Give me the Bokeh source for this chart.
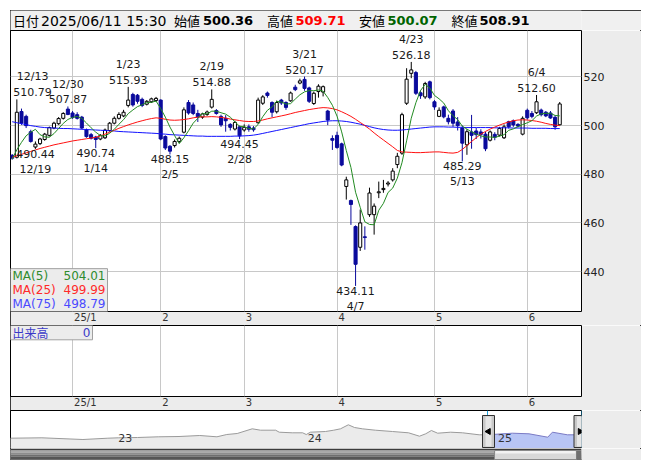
import math
from datetime import datetime, timedelta
import pandas as pd
from bokeh.plotting import figure
from bokeh.layouts import column
from bokeh.models import Range1d, FixedTicker
from bokeh.core.properties import value
from bokeh.embed import file_html
from bokeh.resources import INLINE

# ---------------- data ----------------
dates = ["12/12", "12/13", "12/16", "12/17", "12/18", "12/19", "12/20", "12/23", "12/24", "12/25", "12/26", "12/27", "12/30",
         "1/6", "1/7", "1/8", "1/9", "1/10", "1/14", "1/15", "1/16", "1/17", "1/20", "1/21", "1/22", "1/23", "1/24", "1/27", "1/28", "1/29", "1/30", "1/31",
         "2/3", "2/4", "2/5", "2/6", "2/7", "2/10", "2/12", "2/13", "2/14", "2/17", "2/18", "2/19", "2/20", "2/21", "2/25", "2/26", "2/27", "2/28",
         "3/3", "3/4", "3/5", "3/6", "3/7", "3/10", "3/11", "3/12", "3/13", "3/14", "3/17", "3/18", "3/19", "3/21", "3/24", "3/25", "3/26", "3/27", "3/28", "3/31",
         "4/1", "4/2", "4/3", "4/4", "4/7", "4/8", "4/9", "4/10", "4/11", "4/14", "4/15", "4/16", "4/17", "4/18", "4/21", "4/22", "4/23", "4/24", "4/25", "4/28", "4/30",
         "5/1", "5/2", "5/7", "5/8", "5/9", "5/12", "5/13", "5/14", "5/15", "5/16", "5/19", "5/20", "5/21", "5/22", "5/23", "5/26", "5/27", "5/28", "5/29", "5/30",
         "6/2", "6/3", "6/4", "6/5", "6/6", "6/9", "6/10", "6/11"]

opens = [487.8, 487.0, 505.8, 503.8, 497.5, 491.2, 492.6, 494.3, 496.0, 499.0, 500.8, 503.0, 506.8,
         505.2, 504.5, 503.5, 498.2, 496.3, 495.3, 494.5, 495.0, 498.0, 501.0, 503.0, 504.0, 508.3, 512.8, 512.5, 510.8, 508.8, 509.8, 510.3,
         510.5, 495.5, 491.5, 491.8, 493.5, 497.3, 509.5, 508.5, 505.0, 503.5, 504.6, 507.6, 506.2, 503.8, 503.0, 500.5, 498.6, 499.5,
         498.2, 499.5, 499.0, 501.2, 509.2, 513.4, 509.5, 505.7, 510.5, 509.5, 510.2, 515.8, 517.5, 519.0, 515.5, 509.1, 514.0, 513.8, 506.0, 494.7,
         496.0, 492.5, 475.0, 469.2, 458.5, 450.0, 454.3, 463.4, 463.4, 472.4, 473.7, 476.0, 477.7, 484.0, 488.7, 509.2, 521.5, 521.8, 513.5, 511.8, 518.0,
         509.8, 503.8, 507.7, 503.0, 506.0, 501.5, 499.0, 492.1, 497.4, 497.8, 497.4, 496.5, 494.0, 496.4, 496.1, 495.0, 501.6, 502.0, 500.5, 496.5,
         506.3, 505.0, 505.3, 506.4, 505.5, 505.2, 503.4, 500.36]
highs = [488.3, 510.79, 507.0, 504.5, 498.3, 493.5, 495.0, 497.0, 499.6, 501.6, 503.5, 505.5, 507.87,
         506.0, 505.5, 504.0, 498.8, 497.0, 495.8, 496.5, 498.8, 501.5, 503.8, 505.5, 506.5, 515.93, 513.5, 513.0, 511.5, 510.5, 511.5, 511.8,
         510.8, 496.0, 492.0, 494.3, 495.5, 507.5, 510.5, 509.5, 506.5, 505.3, 506.2, 514.88, 506.8, 504.5, 504.3, 501.0, 502.0, 500.0,
         500.5, 500.5, 499.8, 511.5, 512.5, 514.0, 510.0, 510.3, 511.0, 510.0, 514.0, 516.8, 519.3, 520.17, 516.0, 514.0, 517.0, 516.5, 506.5, 496.0,
         497.5, 493.0, 479.0, 469.6, 459.0, 465.5, 458.6, 474.5, 468.0, 477.0, 477.7, 477.2, 482.5, 488.8, 505.3, 523.6, 526.18, 522.5, 514.5, 518.0, 518.5,
         510.5, 507.5, 508.2, 504.5, 506.8, 503.5, 500.0, 498.5, 504.4, 499.0, 498.5, 497.5, 498.0, 497.3, 499.5, 500.5, 502.0, 502.5, 501.0, 503.8,
         507.0, 506.0, 512.6, 507.0, 506.0, 506.0, 504.2, 509.71]
lows = [486.0, 486.5, 500.3, 499.0, 493.0, 490.44, 492.0, 493.8, 495.5, 498.5, 500.3, 502.5, 504.3,
        502.8, 502.5, 498.5, 495.0, 494.3, 490.74, 494.0, 494.5, 497.5, 500.5, 502.5, 503.5, 507.5, 507.8, 509.0, 507.6, 508.3, 509.3, 509.8,
        494.0, 490.0, 488.15, 491.0, 492.8, 496.8, 504.5, 504.3, 501.5, 502.8, 504.0, 507.0, 504.5, 499.5, 497.5, 498.0, 498.0, 494.45,
        497.5, 497.5, 497.5, 500.8, 508.5, 511.5, 503.5, 505.0, 508.5, 506.5, 509.8, 514.2, 517.0, 514.3, 509.3, 508.5, 511.5, 512.0, 500.2, 490.0,
        490.5, 483.3, 469.6, 459.2, 434.11, 448.5, 449.0, 462.5, 455.2, 470.2, 472.4, 475.0, 477.0, 482.5, 488.0, 508.5, 519.5, 512.6, 511.0, 511.0, 510.8,
        506.5, 503.5, 503.0, 500.5, 499.5, 498.0, 485.29, 488.0, 490.5, 494.5, 494.7, 489.5, 493.5, 494.0, 495.5, 494.5, 498.8, 499.5, 499.3, 496.0,
        502.5, 503.0, 504.8, 503.8, 503.5, 502.8, 498.3, 500.07]
closes = [486.6, 505.5, 501.0, 500.0, 493.5, 492.4, 494.5, 496.5, 499.2, 501.0, 502.9, 505.0, 504.6,
          503.3, 503.0, 499.0, 495.5, 494.8, 494.3, 496.0, 498.2, 501.0, 503.0, 504.6, 505.5, 510.5, 508.5, 510.0, 508.3, 510.0, 511.0, 511.2,
          494.5, 490.8, 489.5, 493.5, 494.8, 506.5, 505.2, 505.0, 503.5, 504.8, 505.6, 510.8, 505.0, 500.3, 502.0, 499.3, 501.3, 495.8,
          499.3, 498.5, 498.3, 510.5, 511.8, 512.4, 505.5, 509.5, 509.3, 507.5, 513.4, 514.8, 518.4, 515.3, 510.0, 513.3, 516.2, 516.0, 502.3, 494.0,
          491.0, 483.8, 477.7, 467.6, 443.0, 460.0, 454.0, 472.3, 466.9, 472.8, 474.2, 476.4, 481.3, 487.4, 504.5, 519.1, 522.9, 513.3, 512.3, 517.3, 511.5,
          507.7, 506.3, 503.6, 501.6, 501.0, 500.0, 492.8, 497.5, 496.0, 496.3, 496.4, 490.5, 497.4, 495.2, 498.8, 499.5, 499.5, 500.3, 499.8, 503.0,
          503.2, 503.8, 509.8, 504.5, 504.0, 503.14, 499.5, 508.91]
# closes of the four sessions before 12/12 (only used for the start of MA(5))
pre_closes = [486.2, 485.8, 486.5, 486.0]

ma25 = [487.0, 487.6, 488.2, 488.8, 489.4, 490.0, 490.6, 491.1, 491.6, 492.1, 492.5, 492.9, 493.3,
        493.7, 494.0, 494.3, 494.6, 494.9, 495.2, 495.8, 496.5, 497.3, 498.1, 498.9, 499.6, 500.3, 500.9, 501.5, 502.0, 502.5, 502.9, 503.2,
        503.0, 502.6, 502.3, 502.2, 502.3, 502.5, 502.8, 503.2, 503.5, 503.6, 503.6, 503.7, 503.6, 503.4, 503.1, 502.7, 502.4, 502.1,
        501.8, 501.7, 501.7, 501.9, 502.3, 502.8, 503.2, 503.6, 504.0, 504.4, 504.9, 505.4, 505.8, 506.2, 506.6, 506.9, 507.2, 507.4, 507.3, 507.0,
        506.5, 505.7, 504.8, 503.8, 502.6, 501.3, 500.0, 498.6, 497.0, 495.5, 494.1, 492.7, 491.3, 489.8, 489.2, 489.1, 489.0, 488.9, 488.9, 489.0, 489.1,
        489.2, 489.2, 489.0, 488.8, 488.7, 489.0, 490.2, 491.8, 493.5, 495.0, 496.5, 497.6, 498.6, 499.4, 500.2, 500.9, 501.5, 502.0, 502.3, 502.4,
        502.3, 502.1, 501.8, 501.4, 500.9, 500.5, 500.2, 499.99]
ma75 = [501.6, 501.2, 500.8, 500.4, 500.0, 499.7, 499.4, 499.2, 499.1, 499.0, 498.9, 498.8, 498.8,
        498.7, 498.6, 498.5, 498.4, 498.3, 498.2, 498.1, 498.0, 497.9, 497.8, 497.6, 497.5, 497.4, 497.3, 497.2, 497.1, 497.0, 496.9, 496.8,
        496.6, 496.5, 496.3, 496.2, 496.1, 496.0, 495.9, 495.8, 495.7, 495.7, 495.6, 495.6, 495.6, 495.6, 495.6, 495.6, 495.7, 495.7,
        495.8, 495.9, 496.1, 496.4, 496.8, 497.2, 497.6, 498.0, 498.4, 498.8, 499.2, 499.6, 500.0, 500.4, 500.8, 501.1, 501.4, 501.7, 501.9, 502.0,
        502.0, 501.9, 501.7, 501.4, 501.0, 500.6, 500.1, 499.6, 499.1, 498.7, 498.4, 498.2, 498.1, 498.1, 498.2, 498.4, 498.6, 498.8, 499.0, 499.2, 499.4,
        499.5, 499.5, 499.5, 499.4, 499.4, 499.3, 499.3, 499.2, 499.2, 499.2, 499.2, 499.2, 499.2, 499.1, 499.1, 499.1, 499.1, 499.0, 499.0, 499.0,
        499.0, 498.9, 498.9, 498.9, 498.9, 498.8, 498.8, 498.79]

month_ticks = [13, 32, 50, 70, 91, 111]
month_labels = ["25/1", "2", "3", "4", "5", "6"]
price_ticks = [440, 460, 480, 500, 520]
high_marks = [1, 12, 25, 43, 63, 86, 113]
low_marks = [5, 18, 34, 49, 74, 97]
quote_time = "2025/06/11 15:30"
volume_last = 0

nav_dates = ["2022-06-07", "2022-08-07", "2022-10-25", "2022-12-12", "2023-01-01", "2023-02-07", "2023-03-19",
             "2023-04-28", "2023-06-07", "2023-07-10", "2023-07-29", "2023-08-18", "2023-09-16", "2023-10-02",
             "2023-10-31", "2023-11-07", "2023-12-02", "2023-12-22", "2023-12-29", "2024-01-06", "2024-02-04",
             "2024-02-20", "2024-03-04", "2024-03-19", "2024-03-31", "2024-04-15", "2024-05-10", "2024-06-12",
             "2024-07-13", "2024-08-03", "2024-08-15", "2024-08-26", "2024-09-07", "2024-10-02", "2024-10-25",
             "2024-11-26", "2024-12-12", "2025-01-29", "2025-03-02", "2025-04-07", "2025-04-16", "2025-05-15", "2025-06-11"]
nav_values = [458, 462, 445, 458, 462, 465, 472, 475, 485, 472, 495, 505, 552, 538, 538, 518, 512, 512, 495, 518, 525,
              538, 552, 592, 565, 552, 538, 525, 512, 478, 502, 535, 508, 518, 512, 492, 492, 508, 502, 468, 518, 492, 492]
nav_years = ["2023-01-01", "2024-01-01", "2025-01-01"]
nav_year_labels = ["23", "24", "25"]
sel_start, sel_end = "2024-12-12", "2025-06-11"

# ---------------- helpers ----------------
DV = "DejaVu Sans"
CJK = "Noto Sans CJK JP"
BLUE_C = "#0a0a9c"
N = len(closes)
idx = list(range(N))

X0 = -0.37
PX_BAR = 4.64
FRAME_W = 571
x_rng = Range1d(X0, X0 + FRAME_W / PX_BAR)
Y_LO, Y_HI = 423.6, 539.1
FRAME_H = 282
PPU = FRAME_H / (Y_HI - Y_LO)


def bx(px):  # page x pixel -> bar index units
    return X0 + (px - 10) / PX_BAR


def py(px):  # page y pixel -> price units
    return Y_HI - (px - 30) / PPU


def text_w(s, size):
    return sum((0.337 if ch == "/" else 0.636) * size for ch in s)


# month labels start just right of the month grid line
label_ticks = [round(t + (1.5 + text_w(l, 10) / 2) / PX_BAR, 3) for t, l in zip(month_ticks, month_labels)]


def style_date_axis(ax):
    ax.ticker = FixedTicker(ticks=label_ticks)
    ax.major_label_overrides = {t: l for t, l in zip(label_ticks, month_labels)}
    ax.major_label_text_font = DV
    ax.major_label_text_font_size = "10px"
    ax.major_label_text_color = "#333333"
    ax.major_label_standoff = 0
    ax.major_tick_out = 0
    ax.major_tick_in = 0
    ax.minor_tick_out = 0
    ax.minor_tick_in = 0
    ax.major_tick_line_color = None
    ax.minor_tick_line_color = None
    ax.axis_line_color = None


common = dict(width=631, output_backend="svg", toolbar_location=None,
              min_border_left=0, min_border_right=60, min_border_top=0)

# ---------------- header ----------------
hdr = figure(height=20, x_range=Range1d(0, FRAME_W), y_range=Range1d(0, 20),
             x_axis_location=None, y_axis_location=None, min_border_bottom=0,
             background_fill_color="#f0f0f0", border_fill_color="#f0f0f0", **common)
hdr.grid.visible = False
hdr.outline_line_color = None
o_last, h_last, l_last, c_last = opens[-1], highs[-1], lows[-1], closes[-1]
pieces = [
    ("日付", 2.5, CJK, "normal", "#000000", "13px"),
    (quote_time, 30.5, DV, "normal", "#000000", "14px"),
    ("始値", 163.5, CJK, "normal", "#000000", "13px"),
    (f"{o_last:.2f}", 192.5, DV, "bold", "#000000", "13px"),
    ("高値", 256.5, CJK, "normal", "#000000", "13px"),
    (f"{h_last:.2f}", 285, DV, "bold", "#ff0000", "13px"),
    ("安値", 348.5, CJK, "normal", "#000000", "13px"),
    (f"{l_last:.2f}", 377, DV, "bold", "#006400", "13px"),
    ("終値", 441, CJK, "normal", "#000000", "13px"),
    (f"{c_last:.2f}", 469, DV, "bold", "#000000", "13px"),
]
for t, x, f, st, col, sz in pieces:
    hdr.text(x=[x], y=[10], text=[t], text_font=value(f), text_font_style=st, text_color=col,
             text_font_size=sz, text_baseline="middle", text_align="left")

# ---------------- price chart ----------------
p = figure(height=295, x_range=x_rng, y_range=Range1d(Y_LO, Y_HI), y_axis_location="right",
           min_border_bottom=13, background_fill_color="white", border_fill_color="#ececec", **common)
p.outline_line_color = "black"
style_date_axis(p.xaxis[0])
ya = p.yaxis[0]
ya.ticker = FixedTicker(ticks=price_ticks)
ya.major_tick_line_color = None
ya.minor_tick_line_color = None
ya.major_tick_out = 0
ya.major_tick_in = 0
ya.minor_tick_out = 0
ya.minor_tick_in = 0
ya.axis_line_color = None
ya.major_label_standoff = 2
ya.major_label_text_font = DV
ya.major_label_text_font_size = "11px"
ya.major_label_text_color = "#222222"
p.xgrid.ticker = FixedTicker(ticks=month_ticks)
p.ygrid.ticker = FixedTicker(ticks=price_ticks)
p.grid.grid_line_color = "#c8c8c8"

up = [c >= o for o, c in zip(opens, closes)]
wick_col = ["#000000" if u else BLUE_C for u in up]
p.segment(x0=idx, y0=lows, x1=idx, y1=highs, line_color=wick_col, line_width=1)
tops = [max(o, c) for o, c in zip(opens, closes)]
bots = [min(o, c) for o, c in zip(opens, closes)]
bots = [b if t - b > 0.25 else t - 0.25 for t, b in zip(tops, bots)]
p.vbar(x=idx, width=0.66, top=tops, bottom=bots,
       fill_color=["#ffffff" if u else BLUE_C for u in up],
       line_color=wick_col, line_width=1)

ma5 = pd.Series(pre_closes + closes).rolling(5).mean().tolist()[len(pre_closes):]
p.line(idx, ma75, line_color="#1010ff", line_width=1)
p.line(idx, ma25, line_color="#ff1010", line_width=1)
p.line(idx, ma5, line_color="#228b22", line_width=1)

# extreme labels
LBL_COL = "#1a1a1a"
for k in high_marks:
    v = highs[k]
    w = 6.7 * max(len(f"{v:.2f}"), len(dates[k]))
    cpx = 10 + (k - X0) * PX_BAR
    cpx = min(max(cpx, 12 + w / 2), 579 - w / 2)
    xc = bx(cpx)
    p.text(x=[xc], y=[v + 3 / PPU], text=[f"{v:.2f}"], text_font=value(DV), text_font_size="11px",
           text_color=LBL_COL, text_align="center", text_baseline="bottom")
    p.text(x=[xc], y=[v + 16 / PPU], text=[dates[k]], text_font=value(DV), text_font_size="11px",
           text_color=LBL_COL, text_align="center", text_baseline="bottom")
for k in low_marks:
    v = lows[k]
    w = 6.7 * max(len(f"{v:.2f}"), len(dates[k]))
    cpx = 10 + (k - X0) * PX_BAR
    cpx = min(max(cpx, 12 + w / 2), 579 - w / 2)
    xc = bx(cpx)
    p.text(x=[xc], y=[v - 1 / PPU], text=[f"{v:.2f}"], text_font=value(DV), text_font_size="11px",
           text_color=LBL_COL, text_align="center", text_baseline="top")
    p.text(x=[xc], y=[v - 14 / PPU], text=[dates[k]], text_font=value(DV), text_font_size="11px",
           text_color=LBL_COL, text_align="center", text_baseline="top")

# MA legend box
p.quad(left=[bx(10)], right=[bx(107)], top=[py(269)], bottom=[Y_LO],
       fill_color="#ececec", line_color="#a0a0a0", line_width=1)
legend_rows = [("MA(5)", ma5[-1], "#2e8b2e", 276), ("MA(25)", ma25[-1], "#ff2a2a", 290),
               ("MA(75)", ma75[-1], "#4a4aff", 304)]
for name, val, col, ypx in legend_rows:
    p.text(x=[bx(12)], y=[py(ypx)], text=[name], text_font=value(DV), text_font_size="12px",
           text_color=col, text_baseline="middle", text_align="left")
    p.text(x=[bx(105)], y=[py(ypx)], text=[f"{val:.2f}"], text_font=value(DV), text_font_size="12px",
           text_color=col, text_baseline="middle", text_align="right")

# ---------------- volume panel ----------------
vol = figure(height=85, x_range=x_rng, y_range=Range1d(0, 1), y_axis_location=None,
             min_border_bottom=13, background_fill_color="white", border_fill_color="#ececec", **common)
vol.outline_line_color = "black"
style_date_axis(vol.xaxis[0])
vol.xgrid.ticker = FixedTicker(ticks=month_ticks)
vol.xgrid.grid_line_color = "#c8c8c8"
vol.ygrid.visible = False
VH = 72.0
vol.quad(left=[bx(10)], right=[bx(92)], top=[1], bottom=[1 - 14.5 / VH],
         fill_color="#ececec", line_color="#a0a0a0", line_width=1)
vol.text(x=[bx(12)], y=[1 - 7.5 / VH], text=["出来高"], text_font=value(CJK), text_font_size="12px",
         text_color="#3a3ac8", text_baseline="middle", text_align="left")
vol.text(x=[bx(90)], y=[1 - 7.5 / VH], text=[str(volume_last)], text_font=value(DV), text_font_size="12px",
         text_color="#3a3ac8", text_baseline="middle", text_align="right")

# ---------------- navigator ----------------
ANCHOR = datetime(2024, 12, 12)
PX_DAY = 94 / 181.0


def nd(px):
    return ANCHOR + timedelta(days=(px - 487) / PX_DAY)


NV_LO, NV_HI = 355, 735


def nvy(px):  # page y pixel in navigator -> nav value units
    return NV_LO + (448 - px) * (NV_HI - NV_LO) / 38.0


nav_rng = Range1d(nd(10), nd(581))
nav = figure(height=38, x_range=nav_rng, y_range=Range1d(NV_LO, NV_HI), x_axis_type="datetime",
             x_axis_location=None, y_axis_location=None, min_border_bottom=0,
             background_fill_color="white", border_fill_color="#ececec", **common)
nav.grid.visible = False
nav.outline_line_color = "black"
ndt = [datetime.fromisoformat(d) for d in nav_dates]
s0 = datetime.fromisoformat(sel_start)
s1 = datetime.fromisoformat(sel_end)
pre_x = [d for d in ndt if d <= s0]
pre_y = [v for d, v in zip(ndt, nav_values) if d <= s0]
sel_x = [d for d in ndt if d >= s0]
sel_y = [v for d, v in zip(ndt, nav_values) if d >= s0]
nav.varea(x=pre_x, y1=[NV_LO] * len(pre_x), y2=pre_y, fill_color="#ebebeb")
nav.line(pre_x, pre_y, line_color="#9a9a9a", line_width=1)
nav.varea(x=sel_x, y1=[NV_LO] * len(sel_x), y2=sel_y, fill_color="#b8c5f5")
nav.line(sel_x, sel_y, line_color="#7a7ac4", line_width=1)
for d in (s0, s1):
    nav.segment(x0=[d], y0=[NV_LO], x1=[d], y1=[NV_HI], line_color="#1ea0dc", line_width=1)
for yd, yl in zip(nav_years, nav_year_labels):
    nav.text(x=[datetime.fromisoformat(yd)], y=[nvy(437.5)], text=[yl], text_font=value(DV),
             text_font_size="11px", text_color="#333333", text_baseline="middle", text_align="left")
for hc, ang in ((488, math.pi / 2), (579.5, -math.pi / 2)):
    nav.quad(left=[nd(hc - 6)], right=[nd(hc + 6)], bottom=[nvy(447)], top=[nvy(415)],
             fill_color="#c8c8c8", line_color="#303030", line_width=1)
    nav.quad(left=[nd(hc - 3)], right=[nd(hc + 3)], bottom=[nvy(446)], top=[nvy(416)],
             fill_color="#e6e6e6", line_color=None)
    nav.scatter(x=[nd(hc)], y=[nvy(431)], marker="triangle", size=6, angle=ang,
                fill_color="black", line_color="black")

# ---------------- scrollbar ----------------
scr = figure(height=12, x_range=nav_rng, y_range=Range1d(0, 12), x_axis_type="datetime",
             x_axis_location=None, y_axis_location=None, min_border_bottom=0,
             background_fill_color="#ececec", border_fill_color="#ececec", **common)
scr.grid.visible = False
scr.outline_line_color = None
stripes = [(12, 10, "#3c3c3c"), (10, 8, "#a8a8a8"), (8, 6, "#8c8c8c"), (6, 4, "#6e6e6e"), (4, 1, "#555555"), (1, 0, "#3c3c3c")]
for t, b, col in stripes:
    scr.quad(left=[nd(10)], right=[nd(581)], top=[t], bottom=[b], fill_color=col, line_color=None)
scr.quad(left=[nd(494)], right=[nd(576)], top=[10], bottom=[1], fill_color="#d8d8d8", line_color="#8a8a8a")
scr.quad(left=[nd(495)], right=[nd(575)], top=[9.5], bottom=[7], fill_color="#f2f2f2", line_color=None)
scr.quad(left=[nd(576)], right=[nd(581)], top=[10], bottom=[1], fill_color="#707070", line_color=None)

layout = column(hdr, p, vol, nav, scr, spacing=0, margin=(10, 0, 0, 10),
                styles={"outline": "1px solid black", "outline-offset": "-1px"})

open("out.html", "w").write(file_html(layout, INLINE))
